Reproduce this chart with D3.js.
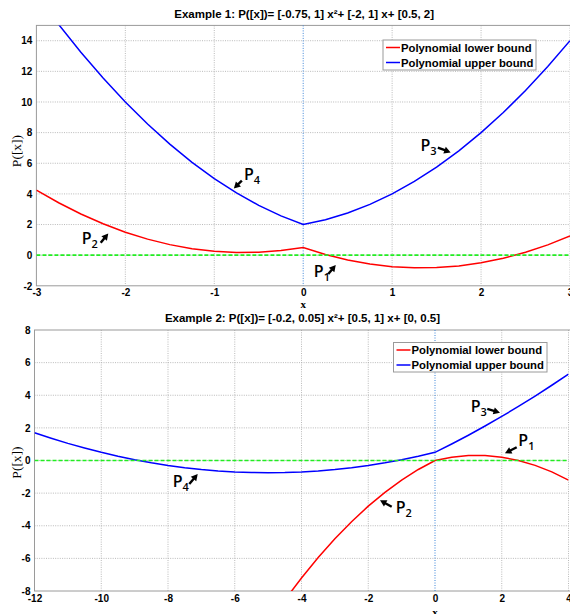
<!DOCTYPE html>
<html><head><meta charset="utf-8">
<script src="https://cdn.jsdelivr.net/npm/d3@7"></script>
<style>body{margin:0;background:#fff}svg{display:block}</style>
</head><body><svg id="c" width="570" height="614"></svg>
<script>
// ---------- data ----------
const titles = ["Example 1: P([x])= [-0.75, 1] x\u00b2+ [-2, 1] x+ [0.5, 2]",
                "Example 2: P([x])= [-0.2, 0.05] x\u00b2+ [0.5, 1] x+ [0, 0.5]"];
const legendLabels = ["Polynomial lower bound", "Polynomial upper bound"];
const yLabel = "P([x])";
const xLabel = "x";

const xTicks1 = [-3,-2,-1,0,1,2,3];
const yTicks1 = [-2,0,2,4,6,8,10,12,14];
const xTicks2 = [-12,-10,-8,-6,-4,-2,0,2,4];
const yTicks2 = [-8,-6,-4,-2,0,2,4,6,8];

const x1 = [-3,-2.75,-2.5,-2.25,-2,-1.75,-1.5,-1.25,-1,-0.75,-0.5,-0.25,0,0.25,0.5,0.75,1,1.25,1.5,1.75,2,2.25,2.5,2.75,3];
const lower1 = [4.25,3.422,2.688,2.047,1.5,1.047,0.688,0.422,0.25,0.172,0.188,0.297,0.5,0.047,-0.313,-0.578,-0.75,-0.828,-0.813,-0.703,-0.5,-0.203,0.188,0.672,1.25];
const upper1 = [17,15.063,13.25,11.563,10,8.563,7.25,6.063,5,4.063,3.25,2.563,2,2.313,2.75,3.313,4,4.813,5.75,6.813,8,9.313,10.75,12.313,14];

const x2 = [-12,-11.5,-11,-10.5,-10,-9.5,-9,-8.5,-8,-7.5,-7,-6.5,-6,-5.5,-5,-4.5,-4,-3.5,-3,-2.5,-2,-1.5,-1,-0.5,0,0.5,1,1.5,2,2.5,3,3.5,4];
const lower2 = [-40.8,-37.95,-35.2,-32.55,-30,-27.55,-25.2,-22.95,-20.8,-18.75,-16.8,-14.95,-13.2,-11.55,-10,-8.55,-7.2,-5.95,-4.8,-3.75,-2.8,-1.95,-1.2,-0.55,0,0.2,0.3,0.3,0.2,0,-0.3,-0.7,-1.2];
const upper2 = [1.7,1.363,1.05,0.763,0.5,0.263,0.05,-0.138,-0.3,-0.438,-0.55,-0.638,-0.7,-0.738,-0.75,-0.738,-0.7,-0.638,-0.55,-0.438,-0.3,-0.138,0.05,0.263,0.5,1.013,1.55,2.113,2.7,3.313,3.95,4.613,5.3];

// annotations: label anchor (data), arrow tail and head (data)
const annot1 = [
  {n:"1", tx:0.119, ty:-1.454, ax:0.282, ay:-1.225, hx:0.366, hy:-0.639},
  {n:"2", tx:-2.491, ty:0.698, ax:-2.277, ay:0.808, hx:-2.192, hy:1.414},
  {n:"3", tx:1.318, ty:6.78, ax:1.514, ay:7.02, hx:1.658, hy:6.71},
  {n:"4", tx:-0.667, ty:4.93, ax:-0.69, ay:4.87, hx:-0.78, hy:4.35}
];
const annot2 = [
  {n:"1", tx:2.496, ty:0.889, ax:2.448, ay:0.809, hx:2.097, hy:0.441},
  {n:"2", tx:-1.178, ty:-3.2, ax:-1.297, ay:-2.833, hx:-1.648, hy:-2.44},
  {n:"3", tx:1.07, ty:2.99, ax:1.567, ay:3.16, hx:1.948, hy:2.93},
  {n:"4", tx:-7.859, ty:-1.606, ax:-7.362, ay:-1.441, hx:-7.11, hy:-0.828}
];

// ---------- drawing ----------
const svg = d3.select("#c");
const defs = svg.append("defs");
const fmt = d => String(d);

function chart(cfg, idx){
  const {xs, lo, up, xDom, yDom, xR, yR, xT, yT, title, tY, legend, ann, yLabY, xLabY} = cfg;
  const x = d3.scaleLinear().domain(xDom).range(xR);
  const y = d3.scaleLinear().domain(yDom).range(yR);
  const g = svg.append("g");
  const L = xR[0], R = xR[1], T = yR[1], B = yR[0];

  defs.append("clipPath").attr("id","clip"+idx).append("rect")
    .attr("x",L).attr("y",T).attr("width",R-L).attr("height",B-T);

  // grid
  g.append("g").selectAll("line").data(xT.filter(v=>v!==xDom[0] && v!==0)).join("line")
    .attr("x1",d=>x(d)).attr("x2",d=>x(d)).attr("y1",T).attr("y2",B)
    .attr("stroke","#a8a8a8").attr("stroke-width",0.8).attr("stroke-dasharray","1,1.3");
  g.append("g").selectAll("line").data(yT.filter(v=>v!==yDom[0] && v!==yDom[1])).join("line")
    .attr("x1",L).attr("x2",R).attr("y1",d=>y(d)).attr("y2",d=>y(d))
    .attr("stroke","#a8a8a8").attr("stroke-width",0.8).attr("stroke-dasharray","1,1.3");

  // frame
  g.append("rect").attr("x",L).attr("y",T).attr("width",R-L+2).attr("height",B-T)
    .attr("fill","none").attr("stroke","#9a9a9a").attr("stroke-width",1);

  // zero lines
  g.append("line").attr("x1",x(0)).attr("x2",x(0)).attr("y1",T).attr("y2",B)
    .attr("stroke","#3d85d8").attr("stroke-width",1).attr("stroke-dasharray","1,1.5");

  const cg = g.append("g").attr("clip-path",`url(#clip${idx})`);
  const line = d3.line().x(d=>x(d[0])).y(d=>y(d[1]));
  cg.append("path").attr("d", line(xs.map((v,i)=>[v,lo[i]])))
    .attr("fill","none").attr("stroke","#ff0000").attr("stroke-width",1.5);
  cg.append("path").attr("d", line(xs.map((v,i)=>[v,up[i]])))
    .attr("fill","none").attr("stroke","#0000ff").attr("stroke-width",1.5);
  cg.append("line").attr("x1",L).attr("x2",R).attr("y1",y(0)).attr("y2",y(0))
    .attr("stroke","#22ee22").attr("stroke-width",1.6).attr("stroke-dasharray","4,2");

  // axes labels
  const ya = d3.axisLeft(y).tickValues(yT).tickFormat(fmt).tickSize(0).tickPadding(4);
  const yg = g.append("g").attr("transform",`translate(${L},0)`).call(ya);
  const xa = d3.axisBottom(x).tickValues(xT).tickFormat(fmt).tickSize(0).tickPadding(3);
  const xg = g.append("g").attr("transform",`translate(0,${B})`).call(xa);
  [yg,xg].forEach(a=>{
    a.select(".domain").remove();
    a.selectAll("text").attr("font-family","Liberation Sans, Arial, sans-serif")
      .attr("font-weight","bold").attr("font-size","10px").attr("fill","#000");
  });
  xg.selectAll("text").attr("dy","0.75em");

  // title
  svg.append("text").attr("x",(L+R)/2+1).attr("y",tY).attr("text-anchor","middle")
    .attr("font-family","Liberation Sans, Arial, sans-serif").attr("font-weight","bold")
    .attr("font-size","11.5px").text(title);

  // x label
  svg.append("text").attr("x",x(0)).attr("y",xLabY).attr("text-anchor","middle")
    .attr("font-family","Liberation Serif, Times New Roman, serif").attr("font-weight","bold")
    .attr("font-size","11px").text(xLabel);
  // y label
  svg.append("text").attr("transform",`translate(21,${yLabY}) rotate(-90)`).attr("text-anchor","middle")
    .attr("font-family","Liberation Serif, Times New Roman, serif")
    .attr("font-size","13.5px").text(yLabel);

  // legend
  const lg = svg.append("g");
  lg.append("rect").attr("x",legend.x).attr("y",legend.y).attr("width",legend.w).attr("height",legend.h)
    .attr("fill","#fff").attr("stroke","#9a9a9a").attr("stroke-width",1);
  const cols = ["#ff0000","#0000ff"];
  legendLabels.forEach((t,i)=>{
    const yy = legend.y + 7.5 + i*15;
    lg.append("line").attr("x1",legend.x+3).attr("x2",legend.x+17).attr("y1",yy).attr("y2",yy)
      .attr("stroke",cols[i]).attr("stroke-width",1.5);
    lg.append("text").attr("x",legend.x+18).attr("y",yy+4).attr("font-family","Liberation Sans, Arial, sans-serif")
      .attr("font-weight","bold").attr("font-size","11.3px").text(t);
  });

  // annotations
  ann.forEach(a=>{
    const t = svg.append("text").attr("x",x(a.tx)).attr("y",y(a.ty))
      .attr("font-family","Open Sans, Noto Sans, sans-serif").attr("font-weight","600")
      .attr("font-size","16px").attr("fill","#000");
    t.append("tspan").text("P");
    t.append("tspan").attr("font-size","11px").attr("dy","4").text(a.n);
    const x0=x(a.ax), y0=y(a.ay), x1_=x(a.hx), y1_=y(a.hy);
    const dx=x1_-x0, dy=y1_-y0, len=Math.hypot(dx,dy), ux=dx/len, uy=dy/len;
    const hl=6.5, hw=3.6;
    const bx=x1_-ux*hl, by=y1_-uy*hl;
    svg.append("line").attr("x1",x0).attr("y1",y0).attr("x2",bx+ux).attr("y2",by+uy)
      .attr("stroke","#000").attr("stroke-width",2.4);
    svg.append("path").attr("d",`M${x1_},${y1_}L${bx-uy*hw},${by+ux*hw}L${bx+uy*hw},${by-ux*hw}Z`)
      .attr("fill","#000");
  });
}

chart({xs:x1, lo:lower1, up:upper1, xDom:[-3,3], yDom:[-2,15], xR:[36.4,570], yR:[285.8,25.4],
  xT:xTicks1, yT:yTicks1, title:titles[0], tY:18, legend:{x:383,y:40,w:153,h:30},
  ann:annot1, yLabY:151, xLabY:308}, 1);
chart({xs:x2, lo:lower2, up:upper2, xDom:[-12,4], yDom:[-8,8], xR:[34.5,568.5], yR:[591,330],
  xT:xTicks2, yT:yTicks2, title:titles[1], tY:322, legend:{x:393.5,y:342.5,w:153.5,h:29.5},
  ann:annot2, yLabY:462.5, xLabY:616}, 2);
</script></body></html>
